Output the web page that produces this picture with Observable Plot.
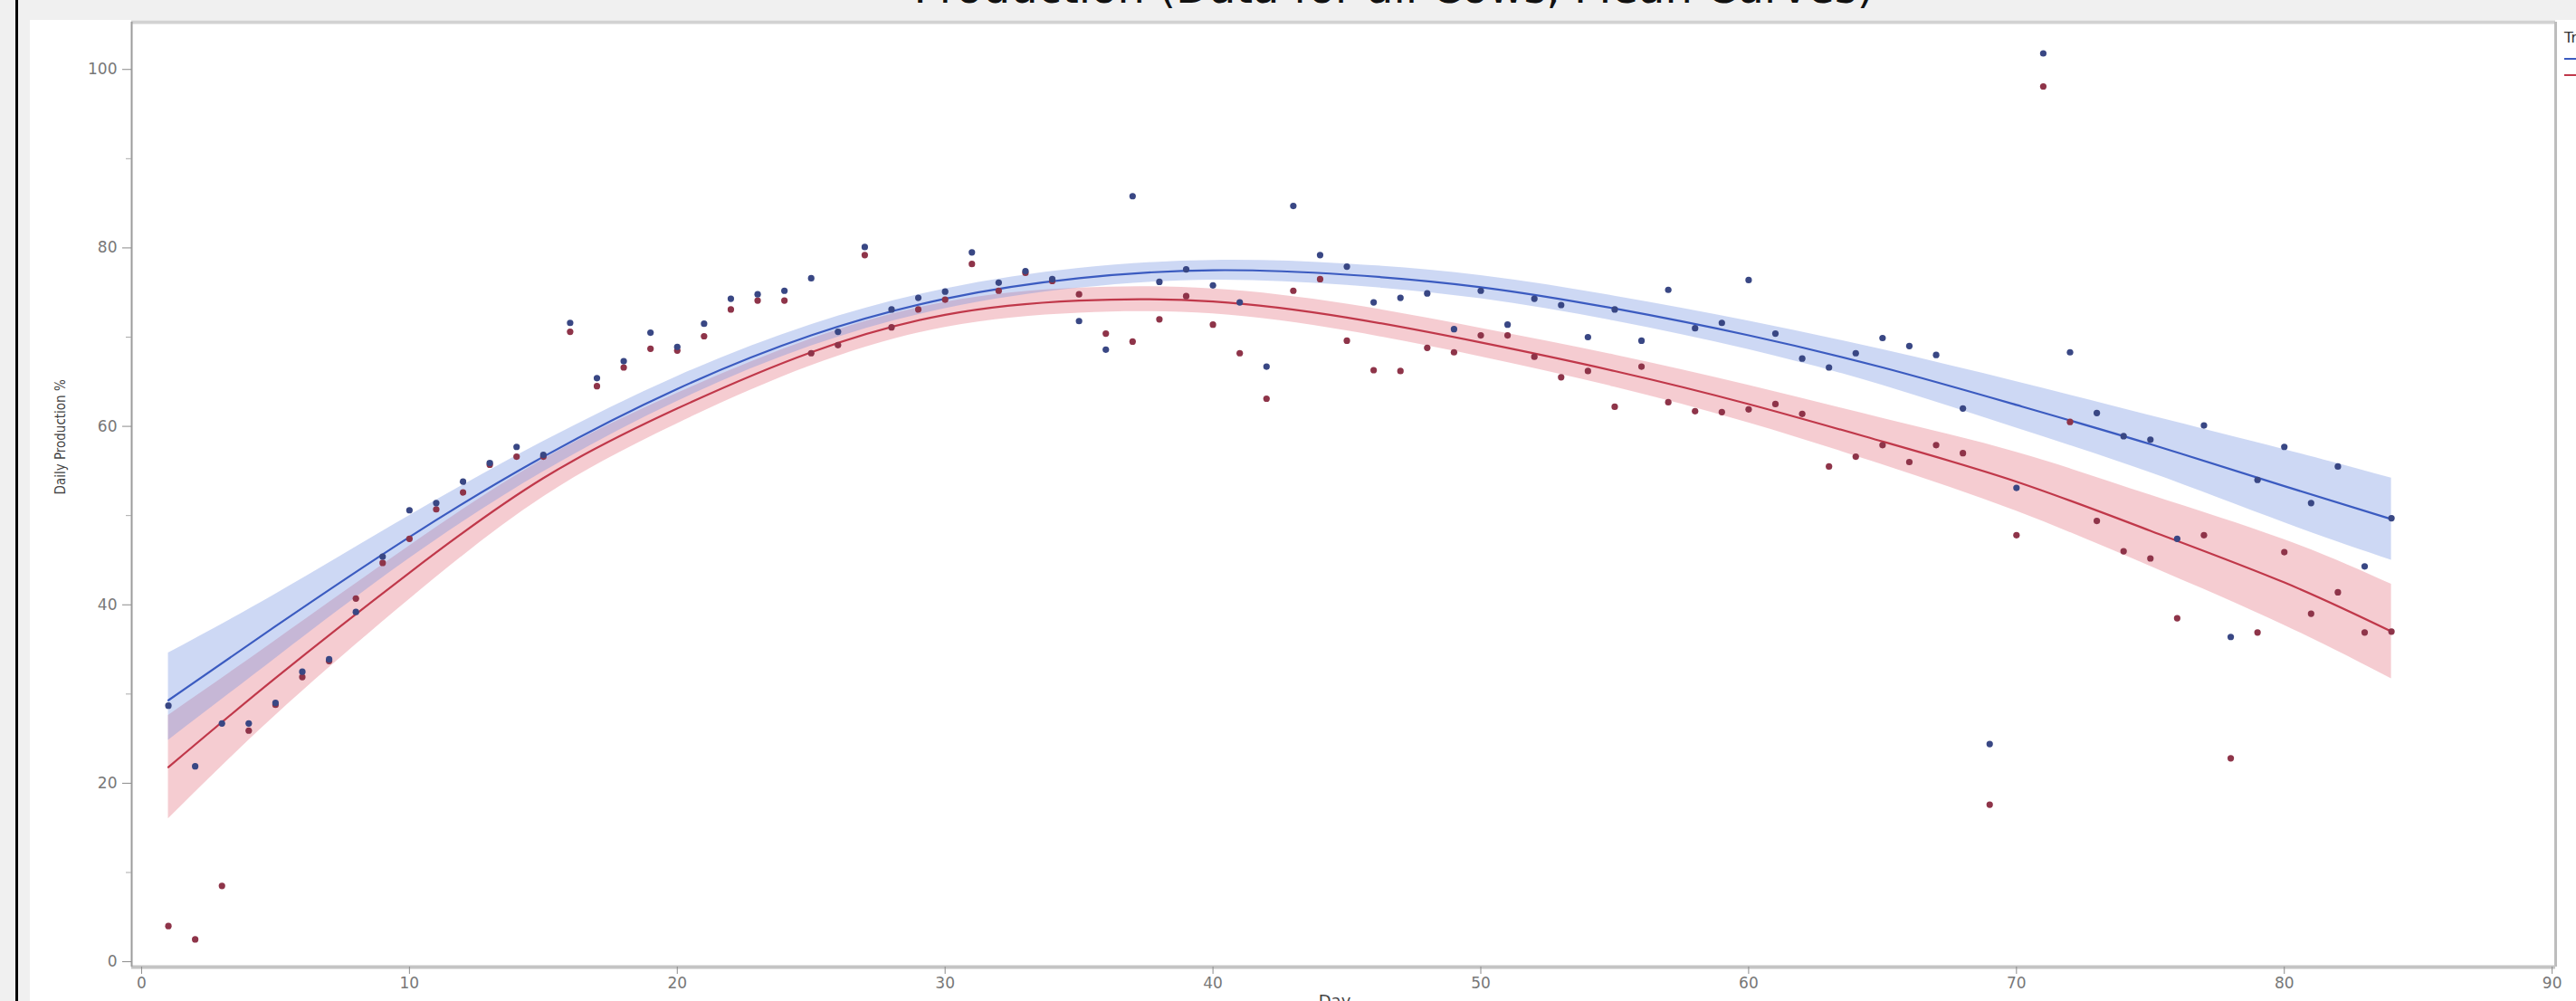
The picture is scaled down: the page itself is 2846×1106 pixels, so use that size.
<!DOCTYPE html>
<html><head><meta charset="utf-8">
<script src="https://cdn.jsdelivr.net/npm/d3@7"></script>
<script src="https://cdn.jsdelivr.net/npm/@observablehq/plot@0.6"></script>
<style>
html,body{margin:0;padding:0;width:2846px;height:1106px;overflow:hidden;background:#f0f0f0;}
#border{position:absolute;left:17px;top:0;width:3px;height:1106px;background:#000;}
#panel{position:absolute;left:33px;top:22px;width:2813px;height:1084px;background:#fff;}
#chart{position:absolute;left:0;top:0;}
</style></head><body>
<div id="border"></div><div id="panel"></div><div id="chart"></div>
<script>
// ---- data ----
const titleText = "Production (Data for all Cows, Mean Curves)";
const xLabel = "Day";
const yLabel = "Daily Production %";
const legendTitle = "Treatment";
const yMajorTicks = [0, 20, 40, 60, 80, 100];
const yMinorTicks = [10, 30, 50, 70, 90];
const xTicks = [0, 10, 20, 30, 40, 50, 60, 70, 80, 90];

const days = [1,2,3,4,5,6,7,8,9,10,11,12,13,14,15,16,17,18,19,20,21,22,23,24,25,26,27,28,29,30,
  31,32,33,34,35,36,37,38,39,40,41,42,43,44,45,46,47,48,49,50,51,52,53,54,55,56,57,58,59,60,
  61,62,63,64,65,66,67,68,69,70,71,72,73,74,75,76,77,78,79,80,81,82,83,84];
const blueValues = [28.7,21.9,26.7,26.7,29.0,32.5,33.9,39.2,45.4,50.6,51.4,53.8,55.9,57.7,56.8,71.6,65.4,67.3,70.5,68.9,
  71.5,74.3,74.8,75.2,76.6,70.6,80.1,73.1,74.4,75.1,79.5,76.1,77.4,76.5,71.8,68.6,85.8,76.2,77.6,75.8,
  73.9,66.7,84.7,79.2,77.9,73.9,74.4,74.9,70.9,75.2,71.4,74.3,73.6,70.0,73.1,69.6,75.3,71.0,71.6,76.4,
  70.4,67.6,66.6,68.2,69.9,69.0,68.0,62.0,24.4,53.1,101.8,68.3,61.5,58.9,58.5,47.4,60.1,36.4,54.0,57.7,
  51.4,55.5,44.3,49.7];
const redValues = [4.0,2.5,8.5,25.9,28.8,31.9,33.7,40.7,44.7,47.4,50.7,52.6,55.7,56.6,56.6,70.6,64.5,66.6,68.7,68.5,
  70.1,73.1,74.1,74.1,68.2,69.1,79.2,71.1,73.1,74.2,78.2,75.2,77.2,76.3,74.8,70.4,69.5,72.0,74.6,71.4,
  68.2,63.1,75.2,76.5,69.6,66.3,66.2,68.8,68.3,70.2,70.2,67.8,65.5,66.2,62.2,66.7,62.7,61.7,61.6,61.9,
  62.5,61.4,55.5,56.6,57.9,56.0,57.9,57.0,17.6,47.8,98.1,60.5,49.4,46.0,45.2,38.5,47.8,22.8,36.9,45.9,
  39.0,41.4,36.9,37.0];

// fitted curves and confidence bands, read at these days
const fitDays  = [1,5,10,15,20,25,30,35,40,45,50,55,60,65,70,75,80,84];
const blueFit  = [29.3,37.6,47.6,56.6,64.2,70.2,74.3,76.6,77.5,77.0,75.6,73.2,70.2,66.6,62.4,58.0,53.3,49.6];
const blueHi   = [34.6,41.2,50.0,58.3,65.6,71.4,75.4,77.7,78.6,78.2,76.9,74.6,71.8,68.6,65.0,61.2,57.4,54.2];
const blueLo   = [24.8,34.0,45.2,54.9,62.8,69.0,73.2,75.5,76.4,75.8,74.3,71.8,68.6,64.6,59.8,54.8,49.2,45.0];
const redFit   = [21.8,31.8,43.6,54.2,62.0,68.3,72.5,74.1,74.0,72.2,69.4,66.2,62.5,58.3,53.8,48.3,42.5,37.0];
const redHi    = [27.6,36.0,46.6,56.3,63.7,69.8,73.9,75.5,75.4,73.7,71.0,68.0,64.6,60.9,57.1,52.3,47.3,42.3];
const redLo    = [16.0,27.6,40.6,52.1,60.3,66.8,71.1,72.7,72.6,70.7,67.8,64.4,60.4,55.7,50.5,44.3,37.7,31.7];

// ---- build tables ----
const bluePts = days.map((d, i) => ({day: d, v: blueValues[i]}));
const redPts = days.map((d, i) => ({day: d, v: redValues[i]}));
const fit = fitDays.map((d, i) => ({day: d, b: blueFit[i], bHi: blueHi[i], bLo: blueLo[i], r: redFit[i], rHi: redHi[i], rLo: redLo[i]}));

const xMin = -0.37, xMax = 90.13, yMin = -0.6, yMax = 105.3;

const chart = Plot.plot({
  width: 2846, height: 1106,
  marginLeft: 145, marginRight: 23, marginTop: 24, marginBottom: 38,
  style: {background: "transparent", fontFamily: "DejaVu Sans", fontSize: "17px", color: "#6a6a6a"},
  x: {domain: [xMin, xMax]},
  y: {domain: [yMin, yMax]},
  marks: [
    Plot.areaY(fit, {x: "day", y1: "rLo", y2: "rHi", fill: "#e26d7c", fillOpacity: 0.35, curve: "natural"}),
    Plot.areaY(fit, {x: "day", y1: "bLo", y2: "bHi", fill: "#7090e0", fillOpacity: 0.35, curve: "natural"}),
    Plot.line(fit, {x: "day", y: "b", stroke: "#3b5bc0", strokeWidth: 2.2, curve: "natural"}),
    Plot.line(fit, {x: "day", y: "r", stroke: "#c0384a", strokeWidth: 2.2, curve: "natural"}),
    Plot.dot(redPts, {x: "day", y: "v", r: 3.6, fill: "#8e3449", stroke: "none"}),
    Plot.dot(bluePts, {x: "day", y: "v", r: 3.6, fill: "#394784", stroke: "none"}),
    // frame lines
    Plot.ruleY([yMax], {stroke: "#d2d2d2", strokeWidth: 4}),
    Plot.ruleX([xMax], {stroke: "#bdbdbd", strokeWidth: 3}),
    Plot.ruleY([yMin], {stroke: "#c4c4c4", strokeWidth: 4}),
    Plot.ruleX([xMin], {stroke: "#9c9c9c", strokeWidth: 2}),
    // axes
    Plot.axisY({ticks: yMajorTicks, tickSize: 10, tickPadding: 6, label: null, stroke: "#8a8a8a", fill: "#777"}),
    Plot.axisY({ticks: yMinorTicks, tickSize: 6, tickFormat: () => "", label: null, stroke: "#aaaaaa"}),
    Plot.axisX({ticks: xTicks, tickSize: 8, tickPadding: 3, label: null, stroke: "#8a8a8a", fill: "#777"}),
    Plot.text([yLabel], {text: d => d, frameAnchor: "left", dx: -78, rotate: -90, fontSize: 15, fill: "#444", fontFamily: "DejaVu Sans Condensed"}),
    Plot.text([xLabel], {text: d => d, frameAnchor: "bottom", dx: -10, dy: 31, lineAnchor: "top", fontSize: 18, fill: "#444"})
  ]
});

const svg = d3.select(chart);
svg.append("text").attr("x", 1540).attr("y", 3).attr("text-anchor", "middle")
  .attr("font-family", "DejaVu Sans").attr("font-size", 48).attr("fill", "#111").text(titleText);
svg.append("text").attr("x", 2833).attr("y", 47).attr("text-anchor", "start")
  .attr("font-family", "DejaVu Sans").attr("font-size", 16).attr("fill", "#333").text(legendTitle);
svg.append("line").attr("x1", 2833).attr("x2", 2860).attr("y1", 65).attr("y2", 65).attr("stroke", "#3b5bc0").attr("stroke-width", 2);
svg.append("line").attr("x1", 2833).attr("x2", 2860).attr("y1", 83).attr("y2", 83).attr("stroke", "#c0384a").attr("stroke-width", 2);

document.getElementById("chart").appendChild(chart);
</script>
</body></html>
